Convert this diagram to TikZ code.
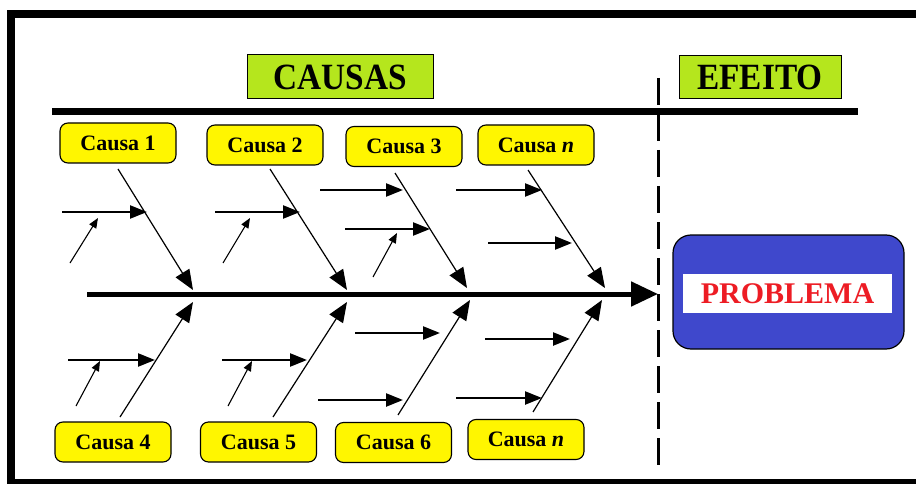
\documentclass[tikz,border=0pt]{standalone}
\usepackage{fontspec}
\setmainfont{Liberation Serif}
\newfontfamily\headfont[FakeStretch=0.9]{Liberation Serif}
\usetikzlibrary{arrows.meta}

\definecolor{headgreen}{RGB}{181,230,29}
\definecolor{causeyellow}{RGB}{255,246,0}
\definecolor{effectblue}{RGB}{63,72,204}
\definecolor{problemred}{RGB}{237,28,36}

\tikzset{
  header/.style={draw, line width=1pt, fill=headgreen, inner sep=0pt,
    font=\headfont\bfseries\fontsize{37}{37}\selectfont},
  causebox/.style={draw, line width=1.1pt, fill=causeyellow, rounded corners=8pt,
    minimum width=116pt, minimum height=40pt, inner sep=0pt,
    font=\bfseries\fontsize{22}{22}\selectfont},
  bone/.style={line width=1.2pt, -{Triangle[length=20pt,width=16pt]}},
  subcause/.style={line width=2.4pt, -{Triangle[length=17pt,width=13pt]}},
  minor/.style={line width=1.1pt, -{Triangle[length=10pt,width=8pt]}},
}

\begin{document}
\begin{tikzpicture}[x=1pt,y=-1pt]
\useasboundingbox (0,0) rectangle (916,484);

% outer frame
\fill (7,10) rectangle (916,18);
\fill (7,10) rectangle (15,484);
\fill (7,479) rectangle (916,484);

% headings
\node[header, minimum width=186pt, minimum height=44pt] (causas) at (340,77) {CAUSAS};
\node[header, minimum width=162pt, minimum height=43pt] (efeito) at (760,77.5) {EFEITO};

% rule under the headings and the dashed divider
\coordinate (ruleL) at (52,111.5);
\coordinate (ruleR) at (858,111.5);
\draw[line width=6.5pt] (ruleL) -- (ruleR);
\coordinate (divT) at (658,78);
\coordinate (divB) at (658,467);
\draw[line width=3pt, dash pattern=on 27pt off 9pt] (divT) -- (divB);

% spine
\coordinate (spineL) at (87,294);
\coordinate (spineR) at (658,294);
\draw[line width=5pt, -{Triangle[length=27pt,width=24pt]}] (spineL) -- (spineR);

% cause boxes
\node[causebox] (c1) at (118,143) {Causa 1};
\node[causebox] (c2) at (265,145) {Causa 2};
\node[causebox] (c3) at (404,146.5) {Causa 3};
\node[causebox] (cn) at (536,145) {Causa \textit{n}};
\node[causebox] (c4) at (113,442) {Causa 4};
\node[causebox] (c5) at (258.5,442) {Causa 5};
\node[causebox] (c6) at (393.5,442.5) {Causa 6};
\node[causebox] (cm) at (526,439.5) {Causa \textit{n}};

% main bones
\coordinate (b1s) at (118,169); \coordinate (b1t) at (193,290);
\coordinate (b2s) at (270,169); \coordinate (b2t) at (347,290);
\coordinate (b3s) at (395,173); \coordinate (b3t) at (467,288);
\coordinate (bns) at (528,170); \coordinate (bnt) at (605,288);
\coordinate (b4s) at (120,417); \coordinate (b4t) at (193,302);
\coordinate (b5s) at (273,417); \coordinate (b5t) at (347,302);
\coordinate (b6s) at (398,415); \coordinate (b6t) at (470,300);
\coordinate (bms) at (533,412); \coordinate (bmt) at (602,300);
\foreach \b in {b1,b2,b3,bn,b4,b5,b6,bm}
  \draw[bone] (\b s) -- (\b t);

% sub-causes
\coordinate (h1s) at (62,212);  \coordinate (h1t) at (147,212);
\coordinate (h2s) at (215,212); \coordinate (h2t) at (300,212);
\coordinate (h3s) at (320,190); \coordinate (h3t) at (403,190);
\coordinate (h4s) at (345,229); \coordinate (h4t) at (430,229);
\coordinate (h5s) at (456,190); \coordinate (h5t) at (542,190);
\coordinate (h6s) at (488,243); \coordinate (h6t) at (572,243);
\coordinate (h7s) at (68,360);  \coordinate (h7t) at (155,360);
\coordinate (h8s) at (222,360); \coordinate (h8t) at (307,360);
\coordinate (h9s) at (355,333); \coordinate (h9t) at (440,333);
\coordinate (hAs) at (318,400); \coordinate (hAt) at (403,400);
\coordinate (hBs) at (485,339); \coordinate (hBt) at (570,339);
\coordinate (hCs) at (456,398); \coordinate (hCt) at (542,398);
\foreach \h in {h1,h2,h3,h4,h5,h6,h7,h8,h9,hA,hB,hC}
  \draw[subcause] (\h s) -- (\h t);

% minor causes
\coordinate (m1s) at (70,263);  \coordinate (m1t) at (98,218);
\coordinate (m2s) at (223,263); \coordinate (m2t) at (250,218);
\coordinate (m3s) at (373,277); \coordinate (m3t) at (397,233);
\coordinate (m4s) at (76,406);  \coordinate (m4t) at (100,361);
\coordinate (m5s) at (228,406); \coordinate (m5t) at (252,361);
\foreach \m in {m1,m2,m3,m4,m5}
  \draw[minor] (\m s) -- (\m t);

% effect
\node[draw, line width=1.2pt, fill=effectblue, rounded corners=18pt,
      minimum width=231pt, minimum height=114pt] (effect) at (788.5,292) {};
\node[fill=white, minimum width=209pt, minimum height=39pt, inner sep=0pt,
      text=problemred, font=\bfseries\fontsize{30}{30}\selectfont]
      (problema) at (787.5,293.5) {PROBLEMA};
\end{tikzpicture}
\end{document}
